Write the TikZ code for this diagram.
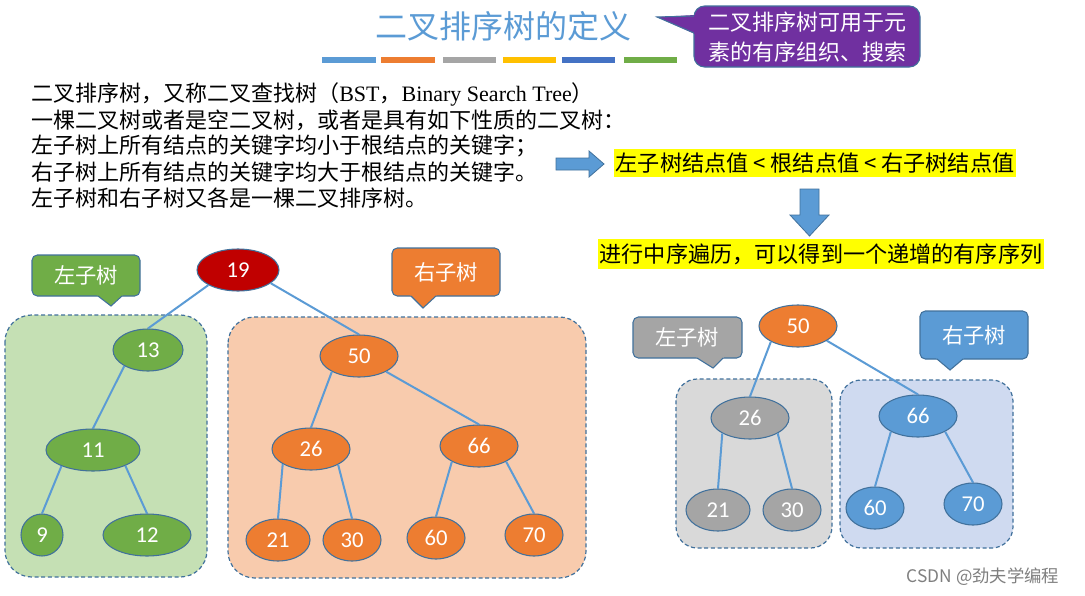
\documentclass[tikz,border=0pt]{standalone}
\usepackage{fontspec}
\setmainfont{Liberation Serif}
\newfontfamily\cjkf{Noto Sans CJK SC}
\newfontfamily\numf{Carlito}
\usetikzlibrary{shapes.geometric}
\definecolor{tblue}{HTML}{5B9BD5}
\definecolor{borange}{HTML}{ED7D31}
\definecolor{bgray}{HTML}{A5A5A5}
\definecolor{byellow}{HTML}{FFC000}
\definecolor{bdblue}{HTML}{4472C4}
\definecolor{bgreen}{HTML}{70AD47}
\definecolor{cpurple}{HTML}{7030A0}
\definecolor{cdred}{HTML}{C00000}
\definecolor{lgreen}{HTML}{C5E0B4}
\definecolor{lorange}{HTML}{F8CBAD}
\definecolor{lgray}{HTML}{D9D9D9}
\definecolor{lblue}{HTML}{CFDAF0}
\definecolor{nline}{HTML}{41719C}
\definecolor{hyellow}{HTML}{FFFF00}
\definecolor{wmgray}{HTML}{7F7F7F}
\begin{document}
\begin{tikzpicture}[x=0.75pt,y=-0.75pt,
  tnode/.style={ellipse, draw=nline, line width=0.8pt, inner sep=0pt,
    minimum height=31.5pt, text=white, font=\numf\fontsize{17}{17}\selectfont},
  edge/.style={draw=tblue, line width=1.5pt},
  region/.style={draw=nline, line width=0.9pt, dash pattern=on 3pt off 2pt, rounded corners=20},
  cbox/.style={line width=0.8pt, rounded corners=4},
  ctext/.style={text=white, font=\cjkf\fontsize{16}{19}\selectfont},
  body/.style={anchor=west, inner sep=0pt, font=\cjkf\fontsize{16.5}{19}\selectfont},
  hl/.style={fill=hyellow, inner xsep=1pt, inner ysep=3pt, font=\cjkf\fontsize{16.6}{19}\selectfont},
  bar/.style={line width=4pt}
]
\useasboundingbox (0,0) rectangle (1085,596);
\fill[white] (0,0) rectangle (1085,596);

% title
\node[text=tblue, font=\cjkf\fontsize{24}{28}\selectfont] (title) at (503,26) {二叉排序树的定义};
\draw[bar, tblue] (322,60) -- (376,60);
\draw[bar, borange] (381,60) -- (435,60);
\draw[bar, bgray] (443,60) -- (496,60);
\draw[bar, byellow] (503,60) -- (556,60);
\draw[bar, bdblue] (562,60) -- (615,60);
\draw[bar, bgreen] (624,60) -- (677,60);

% purple callout
\draw[cbox, fill=cpurple, draw=nline, rounded corners=8] (694,6) rectangle (920,67);
\fill[cpurple] (695,15) -- (657,17) -- (695,34) -- cycle;
\draw[nline, line width=0.8pt] (694,16) -- (657,17) -- (694,33);
\node[ctext, align=left, font=\cjkf\fontsize{16.5}{23}\selectfont] (note) at (807,37) {二叉排序树可用于元\\素的有序组织、搜索};

% body text
\node[body] (l1) at (31,94) {二叉排序树，又称二叉查找树（{\rmfamily BST}，{\rmfamily Binary Search Tree}）};
\node[body] (l2) at (31,120) {一棵二叉树或者是空二叉树，或者是具有如下性质的二叉树：};
\node[body] (l3) at (31,146) {左子树上所有结点的关键字均小于根结点的关键字；};
\node[body] (l4) at (31,172) {右子树上所有结点的关键字均大于根结点的关键字。};
\node[body] (l5) at (31,198) {左子树和右子树又各是一棵二叉排序树。};

% arrows and highlighted text
\draw[fill=tblue, draw=nline, line width=0.6pt] (556,158) -- (589,158) -- (589,151) -- (604,164) -- (589,177) -- (589,170) -- (556,170) -- cycle;
\node[hl] (rule) at (815,163) {左子树结点值 < 根结点值 < 右子树结点值};
\draw[fill=tblue, draw=nline, line width=0.6pt] (800,189) -- (819,189) -- (819,215) -- (829,215) -- (809.5,236) -- (790,215) -- (800,215) -- cycle;
\node[hl] (inorder) at (821,254) {进行中序遍历，可以得到一个递增的有序序列};

% left big tree regions
\draw[region, fill=lgreen] (5,315) rectangle (207,577);
\draw[region, fill=lorange] (228,317) rectangle (586,578);

% callouts big tree
\draw[cbox, fill=bgreen, draw=nline] (32,255) rectangle (140,296);
\fill[bgreen] (97,295) -- (111,306) -- (123,295) -- cycle;
\draw[nline, line width=0.8pt] (98,296) -- (111,306) -- (122,296);
\node[ctext] (lsub1) at (86,275) {左子树};

\draw[cbox, fill=borange, draw=nline] (392,248) rectangle (500,296);
\fill[borange] (410,295) -- (423,308) -- (437,295) -- cycle;
\draw[nline, line width=0.8pt] (411,296) -- (423,308) -- (436,296);
\node[ctext] (rsub1) at (446,272) {右子树};

% big tree nodes
\node[tnode, fill=cdred, minimum width=61.5pt] (a19) at (238,270) {19};
\node[tnode, fill=bgreen, minimum width=52.5pt] (a13) at (148,350) {13};
\node[tnode, fill=bgreen, minimum width=70.5pt] (a11) at (93,450) {11};
\node[tnode, fill=bgreen, minimum width=31.5pt] (a9) at (42,535) {9};
\node[tnode, fill=bgreen, minimum width=66pt] (a12) at (147,535) {12};
\node[tnode, fill=borange, minimum width=58.5pt] (a50) at (359,356) {50};
\node[tnode, fill=borange, minimum width=58.5pt] (a26) at (311,449) {26};
\node[tnode, fill=borange, minimum width=58.5pt] (a66) at (479,446) {66};
\node[tnode, fill=borange, minimum width=48pt] (a21) at (278,540) {21};
\node[tnode, fill=borange, minimum width=43.5pt] (a30) at (352,540) {30};
\node[tnode, fill=borange, minimum width=43.5pt] (a60) at (436,538) {60};
\node[tnode, fill=borange, minimum width=43.5pt] (a70) at (534,535) {70};

\draw[edge] (a19.207) -- (a13.north);
\draw[edge] (a19.338) -- (a50.north);
\draw[edge] (a13.214) -- (a11.north);
\draw[edge] (a11.207) -- (a9.north);
\draw[edge] (a11.334) -- (a12.north);
\draw[edge] (a50.210) -- (a26.north);
\draw[edge] (a50.330) -- (a66.north);
\draw[edge] (a26.208) -- (a21.north);
\draw[edge] (a26.330) -- (a30.north);
\draw[edge] (a66.210) -- (a60.north);
\draw[edge] (a66.330) -- (a70.north);

% small tree regions
\draw[region, fill=lgray, rounded corners=16] (676,379) rectangle (832,548);
\draw[region, fill=lblue, rounded corners=16] (840,380) rectangle (1013,548);

% callouts small tree
\draw[cbox, fill=bgray, draw=nline] (633,317) rectangle (742,358);
\fill[bgray] (696,357) -- (713,368) -- (724,357) -- cycle;
\draw[nline, line width=0.8pt] (697,358) -- (713,368) -- (723,358);
\node[ctext] (lsub2) at (687,337) {左子树};

\draw[cbox, fill=tblue, draw=nline] (920,311) rectangle (1028,359);
\fill[tblue] (936,358) -- (950,370) -- (964,358) -- cycle;
\draw[nline, line width=0.8pt] (937,359) -- (950,370) -- (963,359);
\node[ctext] (rsub2) at (974,335) {右子树};

% small tree nodes
\node[tnode, fill=borange, minimum width=58.5pt] (b50) at (798,326) {50};
\node[tnode, fill=bgray, minimum width=58.5pt] (b26) at (750,418) {26};
\node[tnode, fill=tblue, minimum width=58.5pt] (b66) at (918,416) {66};
\node[tnode, fill=bgray, minimum width=48pt] (b21) at (718,510) {21};
\node[tnode, fill=bgray, minimum width=43.5pt] (b30) at (792,510) {30};
\node[tnode, fill=tblue, minimum width=43.5pt] (b60) at (875,508) {60};
\node[tnode, fill=tblue, minimum width=43.5pt] (b70) at (973,504) {70};

\draw[edge] (b50.210) -- (b26.north);
\draw[edge] (b50.333) -- (b66.north);
\draw[edge] (b26.209) -- (b21.north);
\draw[edge] (b26.331) -- (b30.north);
\draw[edge] (b66.210) -- (b60.north);
\draw[edge] (b66.330) -- (b70.north);

\node[text=wmgray, font=\cjkf\fontsize{13}{15}\selectfont] (csdn) at (983,577) {CSDN @劲夫学编程};
\end{tikzpicture}
\end{document}
